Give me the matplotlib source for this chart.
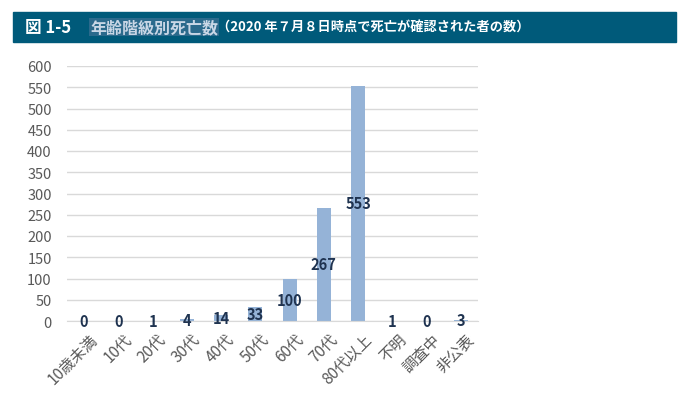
import matplotlib

matplotlib.use("Agg")
import matplotlib.pyplot as plt
import matplotlib.transforms as mtransforms
from matplotlib.patches import Rectangle

plt.rcParams["font.family"] = ["Noto Sans CJK JP", "DejaVu Sans"]

categories = ["10歳未満", "10代", "20代", "30代", "40代", "50代", "60代", "70代",
              "80代以上", "不明", "調査中", "非公表"]
deaths = [0, 0, 1, 4, 14, 33, 100, 267, 553, 1, 0, 3]
yticks = list(range(0, 601, 50))

fig = plt.figure(figsize=(6.83, 4.10), dpi=100)
ax = fig.add_axes([67 / 683, 1 - 322 / 410, 411 / 683, 255 / 410])

x = list(range(len(categories)))
ax.bar(x, deaths, width=0.41, color="#95b3d7", zorder=2)
for i, v in zip(x, deaths):
    ax.text(i, v / 2, str(v), ha="center", va="center", fontsize=10.5,
            fontweight="bold", color="#1f3350", zorder=3)

ax.set_xlim(-0.5, len(categories) - 0.5)
ax.set_ylim(0, 600)
ax.set_yticks(yticks)
ax.grid(axis="y", color="#d9d9d9", linewidth=1, zorder=0)
for s in ["top", "right", "left"]:
    ax.spines[s].set_visible(False)
ax.spines["bottom"].set_color("#d9d9d9")
ax.tick_params(axis="both", length=0, labelsize=10.5, labelcolor="#595959")
ax.tick_params(axis="y", pad=11)
ax.set_xticks(x)
ax.set_xticklabels(categories, rotation=45, ha="right", rotation_mode="anchor",
                   fontsize=11)
ax.tick_params(axis="x", pad=7)
shift = mtransforms.ScaledTranslation(5 / 100, 0, fig.dpi_scale_trans)
for lab in ax.get_xticklabels():
    lab.set_transform(lab.get_transform() + shift)

# title banner
fig.patches.append(Rectangle((13 / 683, 1 - 43 / 410), 663 / 683, 30 / 410,
                             transform=fig.transFigure, color="#005a7a", zorder=0))
ty = 1 - 28 / 410
fig.text(25 / 683, ty, "図 1-5", color="white", fontsize=12, fontweight="bold", va="center")
fig.text(90 / 683, ty, "年齢階級別死亡数", color="#c9d7e6", fontsize=11.5, fontweight="bold",
         va="center", bbox=dict(facecolor="#2b6a8c", edgecolor="none", pad=1))
fig.text(217 / 683, ty, "（2020 年７月８日時点で死亡が確認された者の数）", color="white",
         fontsize=9.5, fontweight="bold", va="center")

fig.savefig("out.png", dpi=100)
